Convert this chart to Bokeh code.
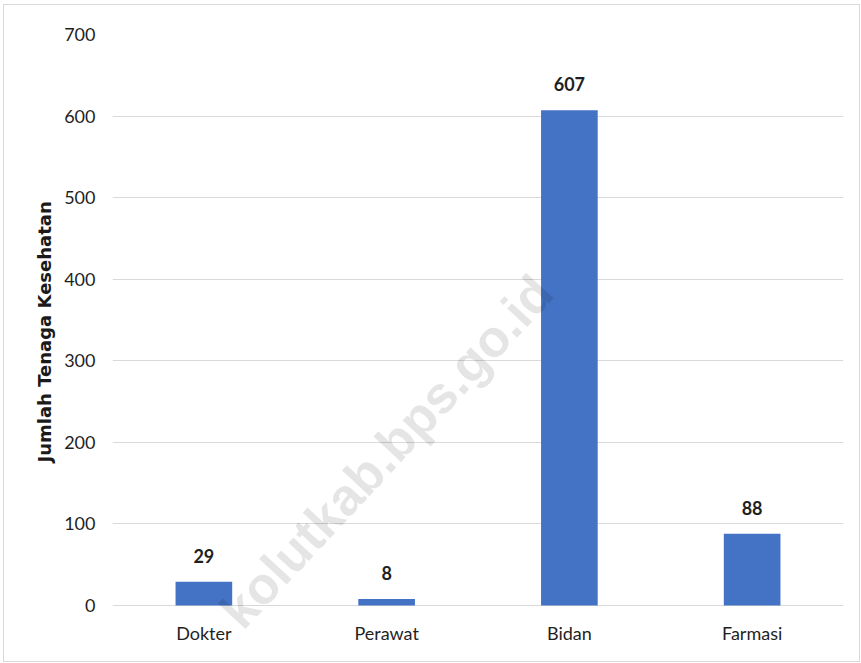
import math
from bokeh.plotting import figure
from bokeh.models import ColumnDataSource, Range1d, FactorRange, LabelSet, Label, FixedTicker, Title
from bokeh.core.properties import value
from bokeh.embed import file_html
from bokeh.resources import INLINE

# ---- data ----
categories = ["Dokter", "Perawat", "Bidan", "Farmasi"]
values = [29, 8, 607, 88]
y_ticks = [0, 100, 200, 300, 400, 500, 600, 700]
y_axis_title = "Jumlah Tenaga Kesehatan"
watermark = "kolutkab.bps.go.id"

FONT = "Lato"
BAR_COLOR = "#4472C4"
TEXT_COLOR = "#1f1f1f"

src = ColumnDataSource(dict(cat=categories, val=values,
                            lab=[str(v) for v in values],
                            zero=[0] * len(categories)))

# plot frame extends to the bottom edge so the watermark is not clipped
PX_PER_UNIT = (600 - 29) / 700.0
Y_START = -(656 - 600) / PX_PER_UNIT

p = figure(
    x_range=FactorRange(*categories, range_padding=0),
    y_range=Range1d(Y_START, 700),
    width=855, height=656,
    output_backend="svg", toolbar_location=None,
    min_border_left=108, min_border_right=16,
    min_border_top=29, min_border_bottom=0,
)
p.styles = {"outline": "1px solid #d9d9d9", "margin-left": "4px", "margin-top": "5px"}
p.outline_line_color = None
p.background_fill_color = "white"
p.border_fill_color = "white"

p.vbar(x="cat", top="val", width=0.31, source=src, fill_color=BAR_COLOR, line_color=None)

# value labels
p.add_layout(LabelSet(x="cat", y="val", text="lab", source=src, y_offset=26,
                      text_align="center", text_baseline="middle",
                      text_font=value(FONT), text_font_size=value("18px"),
                      text_font_style=value("bold"),
                      text_color=TEXT_COLOR))

# category labels (x axis)
p.add_layout(LabelSet(x="cat", y="zero", text="cat", source=src, y_offset=-27,
                      text_align="center", text_baseline="middle",
                      text_font=value(FONT), text_font_size=value("18px"),
                      text_color=TEXT_COLOR))
p.xaxis.visible = False

# grid
p.xgrid.grid_line_color = None
p.ygrid.grid_line_color = "#d9d9d9"
p.ygrid.grid_line_width = 1

# y axis
p.yaxis.ticker = FixedTicker(ticks=y_ticks)
p.yaxis.axis_line_color = None
p.yaxis.major_tick_line_color = None
p.yaxis.minor_tick_line_color = None
p.yaxis.major_label_text_font = FONT
p.yaxis.major_label_text_font_size = "18px"
p.yaxis.major_label_text_color = TEXT_COLOR
p.yaxis.major_label_standoff = 11

# y axis title
p.add_layout(Title(text=y_axis_title, align="left", offset=199, standoff=14,
                   text_font="DejaVu Sans", text_font_size="18px",
                   text_font_style="bold", text_color="#1a1a1a"), "left")

# watermark
p.add_layout(Label(x=1.499, y=188.8, text=watermark, angle=math.radians(47),
                   text_align="center", text_baseline="middle",
                   text_font="Liberation Sans", text_font_size="52px", text_font_style="bold",
                   text_color="black", text_alpha=0.1))

open("out.html", "w").write(file_html(p, INLINE))
